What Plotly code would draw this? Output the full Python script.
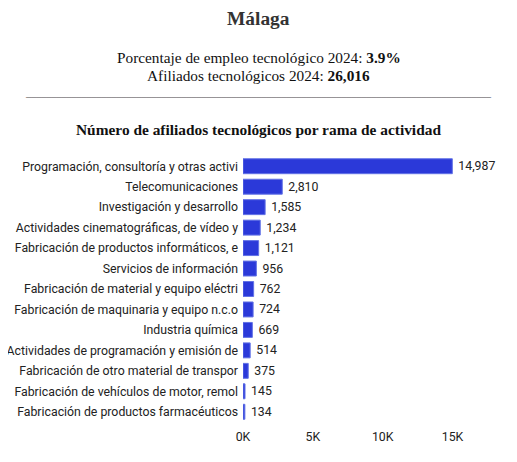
import plotly.graph_objects as go

categories = [
    "Programación, consultoría y otras activi",
    "Telecomunicaciones",
    "Investigación y desarrollo",
    "Actividades cinematográficas, de vídeo y",
    "Fabricación de productos informáticos, e",
    "Servicios de información",
    "Fabricación de material y equipo eléctri",
    "Fabricación de maquinaria y equipo n.c.o",
    "Industria química",
    "Actividades de programación y emisión de",
    "Fabricación de otro material de transpor",
    "Fabricación de vehículos de motor, remol",
    "Fabricación de productos farmacéuticos",
]
values = [14987, 2810, 1585, 1234, 1121, 956, 762, 724, 669, 514, 375, 145, 134]
tick_vals = [0, 5000, 10000, 15000]
tick_text = ["0K", "5K", "10K", "15K"]

W, H = 517, 462
OFF = 8  # page body margin
ml, mr, mt, mb = 235, 12, 148, 48
ph = H - mt - mb
pw = W - ml - mr

def py(px):  # screenshot y -> paper
    return (H - mb - (px - OFF)) / ph

def pxx(px):  # screenshot x -> paper
    return (px - OFF - ml) / pw

fig = go.Figure(go.Bar(
    x=values, y=categories, orientation="h",
    marker=dict(color="#2b39d9", line=dict(color="#6272e6", width=1)),
    text=values, texttemplate="\u00a0%{x:,}", textposition="outside",
    textfont=dict(family="Roboto", size=12.3, color="#222"),
    cliponaxis=False, width=0.73,
))

serif = "Liberation Serif"
ann = [
    dict(text="<b>Málaga</b>", y=py(18), font=dict(family=serif, size=19.4, color="#333")),
    dict(text="Porcentaje de empleo tecnológico 2024: <b>3.9%</b>", y=py(57), font=dict(family=serif, size=15.3, color="#111")),
    dict(text="Afiliados tecnológicos 2024: <b>26,016</b>", y=py(75), font=dict(family=serif, size=15.3, color="#111")),
    dict(text="_" * 93, y=py(93), font=dict(family=serif, size=10, color="#444")),
    dict(text="<b>Número de afiliados tecnológicos por rama de actividad</b>", y=py(129), font=dict(family=serif, size=15.4, color="#111")),
]
for a in ann:
    a.update(xref="paper", yref="paper", x=pxx(258.5), xanchor="center", yanchor="middle", showarrow=False)

fig.update_layout(
    width=W, height=H,
    margin=dict(l=ml, r=mr, t=mt, b=mb, autoexpand=False),
    paper_bgcolor="white", plot_bgcolor="white",
    showlegend=False,
    annotations=ann,
    xaxis=dict(range=[0, pw / (209.5 / 15000)], tickvals=tick_vals, ticktext=tick_text,
               showgrid=False, zeroline=False, showline=False, ticklabelstandoff=6,
               automargin=False,
               tickfont=dict(family="Roboto", size=12.3, color="#222")),
    yaxis=dict(autorange="reversed", showgrid=False, zeroline=False, showline=False,
               ticklabelstandoff=4, automargin=False,
               tickfont=dict(family="Roboto", size=12.3, color="#222")),
    font=dict(family="Roboto"),
)
fig.write_html("out.html")
